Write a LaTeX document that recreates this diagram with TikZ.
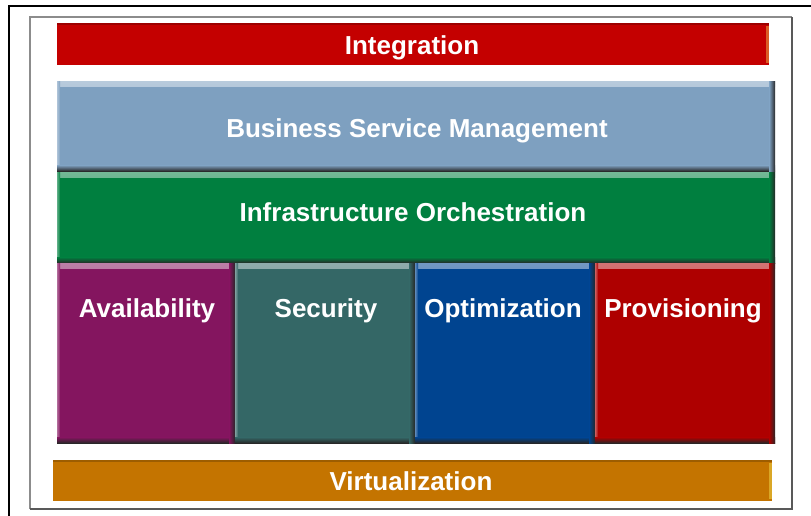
\documentclass[tikz,border=0pt]{standalone}
\usepackage{fontspec}
\setmainfont{Liberation Sans}
\begin{document}
\definecolor{intred}{HTML}{C40000}
\definecolor{bsmblue}{HTML}{7EA0C0}
\definecolor{orchgreen}{HTML}{007F3F}
\definecolor{availpurple}{HTML}{84155F}
\definecolor{secteal}{HTML}{346766}
\definecolor{optblue}{HTML}{004490}
\definecolor{provred}{HTML}{AE0000}
\definecolor{virtorange}{HTML}{C47400}
\tikzset{
  % raised block with lit top/left and shaded bottom/right edges
  bevel/.style={rectangle, inner sep=0pt, anchor=north west, fill=#1,
    path picture={
      \shade[top color=#1!55!white, bottom color=#1]
        (path picture bounding box.north west) rectangle
        ([yshift=-5pt]path picture bounding box.north east);
      \shade[left color=#1!65!white, right color=#1]
        (path picture bounding box.north west) rectangle
        ([xshift=3pt]path picture bounding box.south west);
      \shade[top color=#1, bottom color=black!85]
        ([yshift=6pt]path picture bounding box.south west) rectangle
        (path picture bounding box.south east);
      \shade[left color=#1, right color=black!85]
        ([xshift=-6pt]path picture bounding box.north east) rectangle
        (path picture bounding box.south east);
    }},
  % flat bar with a darker top rim and a lit right face
  slab/.style={rectangle, inner sep=0pt, anchor=north west, fill=#1,
    path picture={
      \fill[#1!80!black]
        (path picture bounding box.north west) rectangle
        ([yshift=-2pt]path picture bounding box.north east);
      \fill[#1!75!yellow!85!white]
        ([xshift=-3pt,yshift=-3pt]path picture bounding box.north east) rectangle
        ([yshift=2pt]path picture bounding box.south east);
    }},
  lbl/.style={text=white, font=\bfseries\fontsize{26}{30}\selectfont,
    inner sep=0pt, anchor=base}
}
\begin{tikzpicture}[x=1pt,y=1pt]
  \useasboundingbox (0,0) rectangle (811,-516);
  \fill[white] (0,0) rectangle (811,-516);

  % page frames
  \draw[line width=2.2pt] (9,-520) -- (9,-6) -- (815,-6);
  \draw[black!45, line width=1.2pt] (30,-509) -- (30,-17) -- (792,-17);
  \draw[black!65, line width=1.8pt] (30,-509) -- (792,-509) -- (792,-17);

  % layers
  \node[slab=intred, minimum width=712pt, minimum height=42pt] (integ) at (57,-23) {};
  \node[bevel=bsmblue, minimum width=718pt, minimum height=90pt] (bsm) at (57,-81) {};
  \node[bevel=orchgreen, minimum width=718pt, minimum height=91pt] (orch) at (57,-172) {};
  \node[bevel=availpurple, minimum width=178pt, minimum height=180pt] (avail) at (57,-263) {};
  \node[bevel=secteal, minimum width=180pt, minimum height=180pt] (sec) at (235,-263) {};
  \node[bevel=optblue, minimum width=180pt, minimum height=180pt] (opt) at (415,-263) {};
  \node[bevel=provred, minimum width=180pt, minimum height=180pt] (prov) at (595,-263) {};
  \node[slab=virtorange, minimum width=719pt, minimum height=41pt] (virt) at (53,-460) {};

  % captions (placed on their baselines)
  \node[lbl] (integ-t) at (412,-55) {Integration};
  \node[lbl] (bsm-t) at (417,-138) {Business Service Management};
  \node[lbl] (orch-t) at (413,-221) {Infrastructure Orchestration};
  \node[lbl] (avail-t) at (147,-317) {Availability};
  \node[lbl] (sec-t) at (326,-317) {Security};
  \node[lbl] (opt-t) at (503,-317) {Optimization};
  \node[lbl] (prov-t) at (683,-317) {Provisioning};
  \node[lbl] (virt-t) at (411,-490) {Virtualization};
\end{tikzpicture}
\end{document}
